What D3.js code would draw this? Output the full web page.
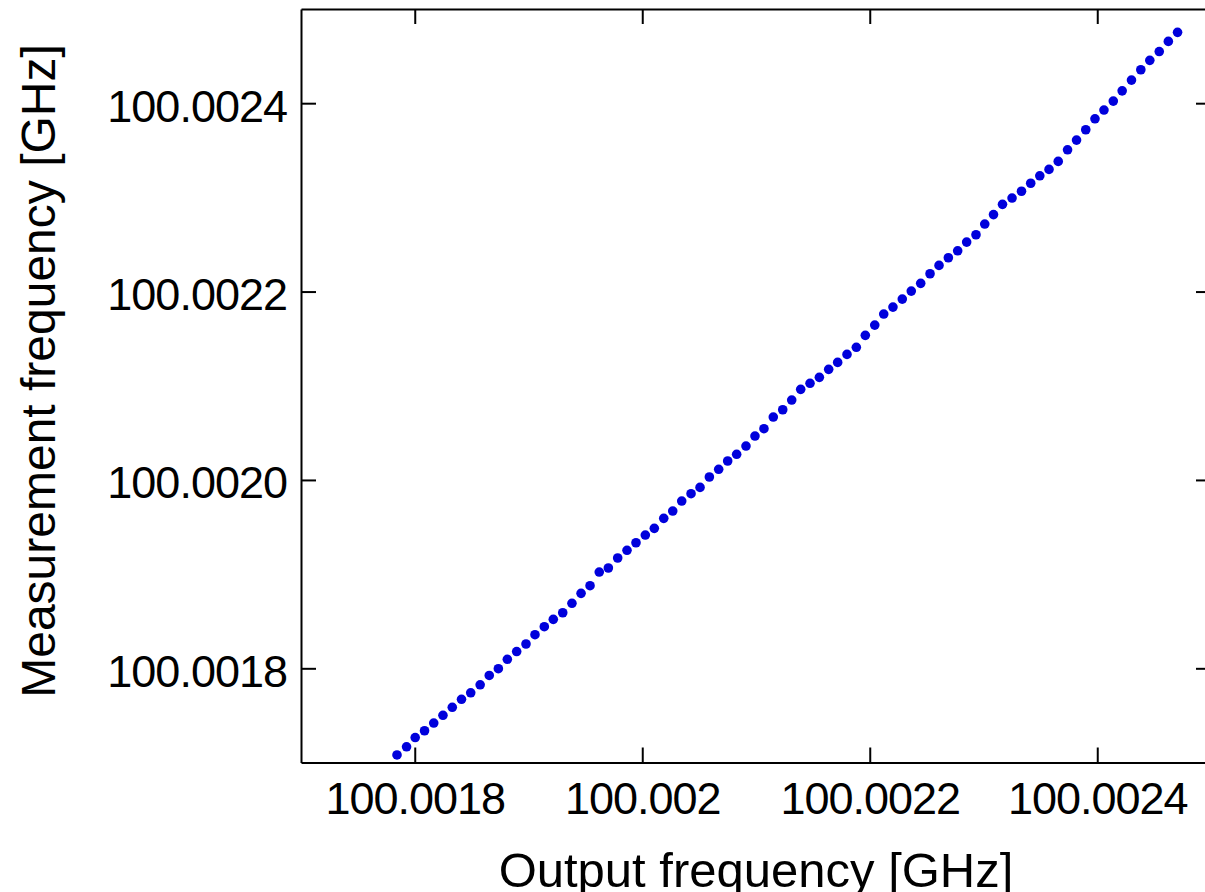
<!DOCTYPE html>
<html>
<head>
<meta charset="utf-8">
<script src="https://cdn.jsdelivr.net/npm/d3@7"></script>
<style>
  body { margin: 0; background: #fff; }
  text { font-family: "Liberation Sans", Arial, sans-serif; fill: #000; }
</style>
</head>
<body>
<div id="chart"></div>
<script>
// output frequency [GHz] (x)
var outputFreq = [
  100.0017844, 100.0017928, 100.0018004, 100.0018086, 100.0018167, 100.0018248, 100.0018330, 100.0018411,
  100.0018492, 100.0018575, 100.0018655, 100.0018735, 100.0018814, 100.0018896, 100.0018978, 100.0019057,
  100.0019139, 100.0019218, 100.0019301, 100.0019382, 100.0019462, 100.0019541, 100.0019622, 100.0019702,
  100.0019784, 100.0019866, 100.0019945, 100.0020027, 100.0020106, 100.0020189, 100.0020268, 100.0020347,
  100.0020429, 100.0020508, 100.0020590, 100.0020672, 100.0020751, 100.0020830, 100.0020912, 100.0020991,
  100.0021070, 100.0021152, 100.0021235, 100.0021314, 100.0021393, 100.0021475, 100.0021557, 100.0021639,
  100.0021718, 100.0021800, 100.0021882, 100.0021961, 100.0022044, 100.0022123, 100.0022204, 100.0022286,
  100.0022365, 100.0022448, 100.0022530, 100.0022609, 100.0022691, 100.0022773, 100.0022852, 100.0022934,
  100.0023011, 100.0023088, 100.0023167, 100.0023251, 100.0023334, 100.0023415, 100.0023495, 100.0023576,
  100.0023657, 100.0023739, 100.0023818, 100.0023899, 100.0023980, 100.0024059, 100.0024141, 100.0024219,
  100.0024301, 100.0024383, 100.0024462, 100.0024545, 100.0024625, 100.0024706
];

// measurement frequency [GHz] (y)
var measuredFreq = [
  100.0017080, 100.0017167, 100.0017265, 100.0017337, 100.0017419, 100.0017501, 100.0017586, 100.0017671,
  100.0017740, 100.0017825, 100.0017924, 100.0017996, 100.0018096, 100.0018178, 100.0018258, 100.0018357,
  100.0018442, 100.0018520, 100.0018590, 100.0018690, 100.0018796, 100.0018877, 100.0019022, 100.0019065,
  100.0019171, 100.0019253, 100.0019333, 100.0019415, 100.0019486, 100.0019592, 100.0019670, 100.0019776,
  100.0019854, 100.0019921, 100.0020031, 100.0020113, 100.0020201, 100.0020272, 100.0020360, 100.0020466,
  100.0020544, 100.0020668, 100.0020745, 100.0020848, 100.0020962, 100.0021026, 100.0021089, 100.0021174,
  100.0021248, 100.0021333, 100.0021408, 100.0021535, 100.0021644, 100.0021761, 100.0021835, 100.0021920,
  100.0022005, 100.0022087, 100.0022189, 100.0022278, 100.0022359, 100.0022433, 100.0022525, 100.0022603,
  100.0022717, 100.0022817, 100.0022926, 100.0022993, 100.0023065, 100.0023150, 100.0023229, 100.0023297,
  100.0023382, 100.0023505, 100.0023608, 100.0023718, 100.0023834, 100.0023927, 100.0024022, 100.0024131,
  100.0024245, 100.0024355, 100.0024455, 100.0024548, 100.0024656, 100.0024752
];

var xTicks = [100.0018, 100.0020, 100.0022, 100.0024];
var xTickLabels = ["100.0018", "100.002", "100.0022", "100.0024"];
var yTicks = [100.0018, 100.0020, 100.0022, 100.0024];
var yTickLabels = ["100.0018", "100.0020", "100.0022", "100.0024"];
var xDomain = [100.0017, 100.0025];
var yDomain = [100.0017, 100.0025];

var data = outputFreq.map(function(d, i) { return {x: d, y: measuredFreq[i]}; });

// set the dimensions and margins of the graph
var margin = {top: 9, left: 301},
    width = 910,
    height = 753.5;

var svg = d3.select("#chart")
  .append("svg")
    .attr("width", 1205)
    .attr("height", 892)
  .append("g")
    .attr("transform", "translate(" + margin.left + "," + margin.top + ")");

// set the ranges
var x = d3.scaleLinear().domain(xDomain).range([0, width]);
var y = d3.scaleLinear().domain(yDomain).range([height, 0]);

function styleAxis(g) {
  g.select(".domain").attr("stroke", "#000").attr("stroke-width", 2);
  g.selectAll(".tick line").attr("stroke", "#000").attr("stroke-width", 2);
  g.selectAll(".tick text")
    .attr("font-family", "Liberation Sans, Arial, sans-serif")
    .style("font-size", "45px")
    .style("letter-spacing", "-1px")
    .attr("fill", "#000");
}

// X Axis
svg.append("g")
    .attr("transform", "translate(0," + height + ")")
    .call(d3.axisBottom(x).tickValues(xTicks).tickSizeInner(-15).tickSizeOuter(0).tickPadding(20)
      .tickFormat(function(d, i) { return xTickLabels[i]; }))
    .call(styleAxis);

// Top axis (ticks only)
svg.append("g")
    .call(d3.axisTop(x).tickValues(xTicks).tickSizeInner(-15).tickSizeOuter(0).tickFormat(""))
    .call(styleAxis);

// Y Axis
svg.append("g")
    .call(d3.axisLeft(y).tickValues(yTicks).tickSizeInner(-15).tickSizeOuter(0).tickPadding(14)
      .tickFormat(function(d, i) { return yTickLabels[i]; }))
    .call(styleAxis)
    .selectAll(".tick text").attr("dy", "0.4em");

// Right axis (ticks only)
svg.append("g")
    .attr("transform", "translate(" + width + ",0)")
    .call(d3.axisRight(y).tickValues(yTicks).tickSizeInner(-15).tickSizeOuter(0).tickFormat(""))
    .call(styleAxis);

// points
svg.append("g")
  .selectAll("circle")
  .data(data)
  .enter().append("circle")
    .attr("cx", function(d) { return x(d.x); })
    .attr("cy", function(d) { return y(d.y); })
    .attr("r", 4.8)
    .attr("fill", "#0000dc");

// axis titles
svg.append("text")
    .attr("x", width / 2)
    .attr("y", 878)
    .attr("text-anchor", "middle")
    .style("font-size", "49px")
    .text("Output frequency [GHz]");

svg.append("text")
    .attr("transform", "translate(" + (55 - margin.left) + "," + (371 - margin.top) + ") rotate(-90)")
    .attr("text-anchor", "middle")
    .style("font-size", "48px")
    .text("Measurement frequency [GHz]");
</script>
</body>
</html>
